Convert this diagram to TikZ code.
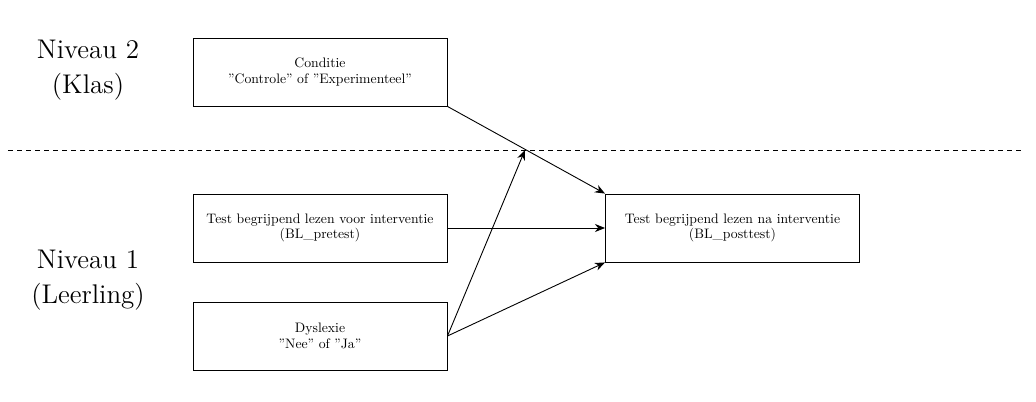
\documentclass[tikz,border=0pt]{standalone}
\usepackage{fontspec}
\newfontfamily\boxfont{lmroman10-regular.otf}
\usetikzlibrary{arrows.meta}
\begin{document}
\begin{tikzpicture}[x=0.4444pt,y=-0.4444pt,
  box/.style={draw,rectangle,minimum width=112.9pt,minimum height=30.2pt,align=center,font=\boxfont\fontsize{6.1}{7}\selectfont,inner sep=0pt},
  lvl/.style={align=center,font=\fontsize{12}{15.5}\selectfont},
  arr/.style={-{Stealth[length=4.5pt,width=3.6pt]}}]
\useasboundingbox (0,0) rectangle (1036,401);
\node[box] (cond) at (320,72) {Conditie\\”Controle” of ”Experimenteel”};
\node[box] (pre) at (320,228) {Test begrijpend lezen voor interventie\\(BL\_pretest)};
\node[box] (dys) at (320,336) {Dyslexie\\”Nee” of ”Ja”};
\node[box] (post) at (732.5,228) {Test begrijpend lezen na interventie\\(BL\_posttest)};
\node[lvl] (n2) at (88,70) {Niveau 2\\(Klas)};
\node[lvl] (n1) at (88,280) {Niveau 1\\(Leerling)};
\coordinate (dl) at (8,150);
\coordinate (dr) at (1022,150);
\coordinate (hit) at (525,150);
\draw[dash pattern=on 2pt off 2pt] (dl) -- (dr);
\draw[arr] (cond.south east) -- (post.north west);
\draw[arr] (pre.east) -- (post.west);
\draw[arr] (dys.east) -- (post.south west);
\draw[arr] (dys.east) -- (hit);
\end{tikzpicture}
\end{document}
